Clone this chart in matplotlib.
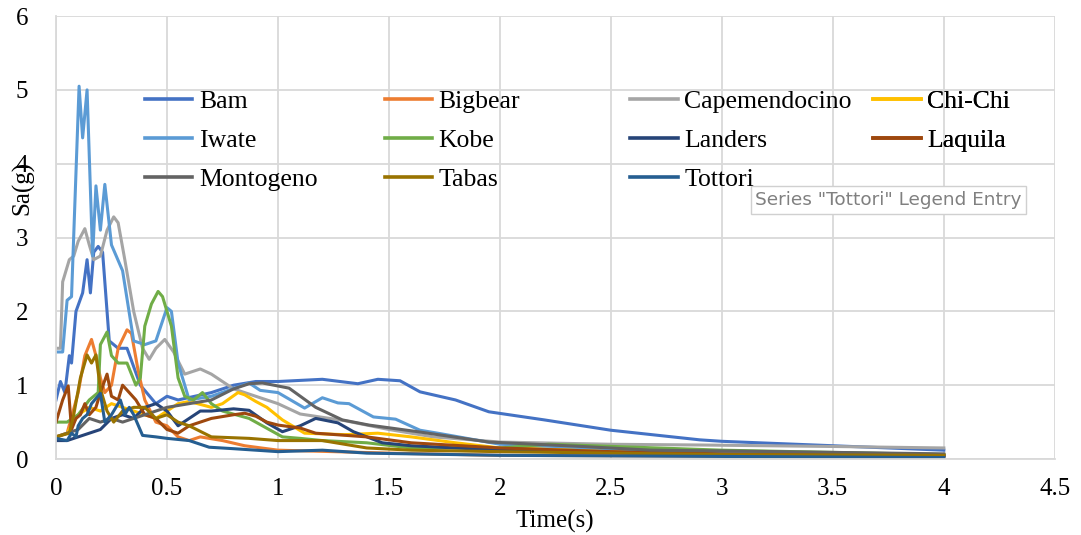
import matplotlib.pyplot as plt
from matplotlib.lines import Line2D

plt.rcParams['font.family'] = ['Liberation Serif', 'DejaVu Serif']

# period (s) and spectral acceleration (g), one pair of lists per record
bam_t = [0, 0.02, 0.04, 0.06, 0.07, 0.09, 0.12, 0.14, 0.155, 0.17, 0.19, 0.21, 0.24, 0.28, 0.32, 0.38,
         0.45, 0.5, 0.55, 0.7, 0.8, 0.9, 1.0, 1.2, 1.36, 1.45, 1.55, 1.64, 1.8, 1.95, 2.2, 2.5, 2.9, 3.0, 3.5, 4.0]
bam_sa = [0.8, 1.05, 0.9, 1.4, 1.3, 2.0, 2.25, 2.7, 2.25, 2.8, 2.88, 2.8, 1.6, 1.5, 1.5, 1.0,
          0.75, 0.85, 0.8, 0.9, 1.0, 1.05, 1.05, 1.08, 1.02, 1.08, 1.06, 0.91, 0.8, 0.64, 0.53, 0.39, 0.26, 0.24, 0.18, 0.12]

bigbear_t = [0, 0.05, 0.1, 0.13, 0.16, 0.18, 0.2, 0.22, 0.25, 0.28, 0.32, 0.34, 0.37, 0.4, 0.45, 0.5,
             0.55, 0.6, 0.65, 0.75, 0.85, 1.0, 1.5, 2.0, 3.0, 4.0]
bigbear_sa = [0.3, 0.35, 0.9, 1.4, 1.62, 1.4, 1.1, 0.9, 1.0, 1.5, 1.75, 1.7, 1.2, 0.8, 0.5, 0.45,
              0.3, 0.25, 0.3, 0.25, 0.18, 0.12, 0.08, 0.05, 0.04, 0.03]

cape_t = [0, 0.02, 0.03, 0.06, 0.08, 0.1, 0.13, 0.15, 0.17, 0.2, 0.23, 0.26, 0.28, 0.31, 0.35, 0.39, 0.42,
          0.45, 0.49, 0.53, 0.58, 0.65, 0.7, 0.8, 0.9, 1.0, 1.1, 1.3, 1.5, 1.7, 2.0, 2.5, 2.9, 3.5, 4.0]
cape_sa = [1.5, 1.5, 2.4, 2.7, 2.75, 2.95, 3.12, 2.9, 2.7, 2.75, 3.1, 3.28, 3.2, 2.7, 2.0, 1.5, 1.35,
           1.5, 1.62, 1.45, 1.15, 1.22, 1.15, 0.95, 0.85, 0.75, 0.61, 0.52, 0.4, 0.3, 0.23, 0.2, 0.19, 0.17, 0.15]

chichi_t = [0, 0.05, 0.1, 0.15, 0.2, 0.25, 0.3, 0.35, 0.4, 0.45, 0.5, 0.55, 0.6, 0.7, 0.75, 0.82, 0.85,
            0.9, 0.95, 1.02, 1.12, 1.3, 1.45, 1.6, 1.8, 2.0, 2.5, 3.0, 4.0]
chichi_sa = [0.3, 0.35, 0.6, 0.7, 0.65, 0.75, 0.7, 0.65, 0.6, 0.55, 0.65, 0.75, 0.78, 0.7, 0.75, 0.9, 0.87,
             0.78, 0.7, 0.53, 0.35, 0.33, 0.35, 0.3, 0.22, 0.15, 0.12, 0.1, 0.06]

iwate_t = [0, 0.03, 0.05, 0.07, 0.104, 0.12, 0.14, 0.165, 0.18, 0.2, 0.22, 0.25, 0.3, 0.35, 0.4, 0.45,
           0.5, 0.52, 0.55, 0.6, 0.7, 0.87, 0.92, 1.0, 1.12, 1.2, 1.27, 1.32, 1.43, 1.53, 1.64, 1.72, 2.0, 3.0, 4.0]
iwate_sa = [1.45, 1.45, 2.15, 2.2, 5.05, 4.35, 5.0, 2.75, 3.7, 3.1, 3.72, 2.9, 2.55, 1.6, 1.55, 1.6,
            2.05, 2.0, 1.3, 0.8, 0.85, 1.03, 0.93, 0.9, 0.69, 0.83, 0.76, 0.75, 0.57, 0.54, 0.39, 0.35, 0.2, 0.08, 0.05]

kobe_t = [0, 0.05, 0.1, 0.15, 0.19, 0.2, 0.23, 0.25, 0.28, 0.32, 0.36, 0.38, 0.4, 0.43, 0.46, 0.48, 0.52,
          0.55, 0.58, 0.62, 0.66, 0.7, 0.75, 0.87, 1.02, 1.1, 1.2, 1.4, 1.6, 2.0, 2.22, 3.0, 4.0]
kobe_sa = [0.5, 0.5, 0.6, 0.8, 0.9, 1.55, 1.72, 1.4, 1.3, 1.3, 1.0, 1.1, 1.8, 2.1, 2.27, 2.2, 1.8,
           1.1, 0.85, 0.8, 0.9, 0.75, 0.65, 0.55, 0.3, 0.28, 0.25, 0.22, 0.15, 0.15, 0.2, 0.12, 0.06]

landers_t = [0, 0.05, 0.1, 0.15, 0.2, 0.25, 0.3, 0.35, 0.4, 0.45, 0.5, 0.55, 0.6, 0.65, 0.7, 0.8, 0.87,
             0.95, 1.02, 1.1, 1.17, 1.27, 1.34, 1.47, 1.6, 2.0, 3.0, 4.0]
landers_sa = [0.25, 0.25, 0.3, 0.35, 0.4, 0.55, 0.6, 0.55, 0.7, 0.75, 0.65, 0.45, 0.55, 0.65, 0.65, 0.68, 0.66,
              0.49, 0.37, 0.45, 0.55, 0.49, 0.37, 0.22, 0.18, 0.12, 0.06, 0.04]

laquila_t = [0, 0.03, 0.055, 0.07, 0.09, 0.11, 0.13, 0.15, 0.18, 0.2, 0.23, 0.25, 0.28, 0.3, 0.33, 0.36,
             0.4, 0.45, 0.5, 0.55, 0.6, 0.7, 0.8, 0.85, 0.9, 0.95, 1.0, 1.1, 1.17, 1.4, 1.6, 2.0, 2.5, 3.0, 4.0]
laquila_sa = [0.5, 0.8, 0.99, 0.4, 0.55, 0.6, 0.75, 0.6, 0.7, 0.9, 1.15, 0.85, 0.8, 1.0, 0.9, 0.8,
              0.6, 0.55, 0.4, 0.35, 0.45, 0.55, 0.6, 0.62, 0.58, 0.5, 0.46, 0.42, 0.35, 0.3, 0.22, 0.15, 0.1, 0.07, 0.05]

monto_t = [0, 0.05, 0.1, 0.15, 0.2, 0.25, 0.3, 0.35, 0.4, 0.45, 0.5, 0.6, 0.7, 0.8, 0.87, 0.93, 1.05,
           1.17, 1.29, 1.41, 1.63, 1.95, 2.37, 2.68, 3.0, 4.0]
monto_sa = [0.3, 0.35, 0.4, 0.55, 0.5, 0.55, 0.5, 0.55, 0.6, 0.65, 0.7, 0.75, 0.8, 0.95, 1.02, 1.03, 0.96,
            0.7, 0.53, 0.46, 0.37, 0.23, 0.17, 0.12, 0.11, 0.07]

tabas_t = [0, 0.06, 0.08, 0.11, 0.14, 0.16, 0.18, 0.2, 0.23, 0.26, 0.3, 0.35, 0.4, 0.45, 0.5, 0.55,
           0.6, 0.7, 0.87, 1.0, 1.2, 1.4, 1.6, 2.0, 3.0, 4.0]
tabas_sa = [0.3, 0.35, 0.6, 1.1, 1.41, 1.3, 1.41, 0.95, 0.65, 0.5, 0.65, 0.7, 0.7, 0.55, 0.6, 0.5,
            0.45, 0.3, 0.28, 0.25, 0.25, 0.15, 0.12, 0.1, 0.06, 0.05]

tottori_t = [0, 0.05, 0.07, 0.09, 0.1, 0.12, 0.14, 0.16, 0.2, 0.22, 0.25, 0.29, 0.31, 0.33, 0.35, 0.39,
             0.45, 0.5, 0.6, 0.69, 0.8, 0.9, 1.0, 1.2, 1.4, 2.0, 4.0]
tottori_sa = [0.28, 0.25, 0.35, 0.3, 0.45, 0.55, 0.6, 0.75, 0.89, 0.5, 0.6, 0.8, 0.6, 0.7, 0.6, 0.32,
              0.3, 0.28, 0.25, 0.16, 0.14, 0.12, 0.1, 0.12, 0.08, 0.05, 0.02]

names = ['Bam', 'Bigbear', 'Capemendocino', 'Chi-Chi', 'Iwate', 'Kobe', 'Landers', 'Laquila',
         'Montogeno', 'Tabas', 'Tottori']
periods = [bam_t, bigbear_t, cape_t, chichi_t, iwate_t, kobe_t, landers_t, laquila_t, monto_t, tabas_t, tottori_t]
accels = [bam_sa, bigbear_sa, cape_sa, chichi_sa, iwate_sa, kobe_sa, landers_sa, laquila_sa, monto_sa, tabas_sa, tottori_sa]
colors = ['#4472C4', '#ED7D31', '#A5A5A5', '#FFC000', '#5B9BD5', '#70AD47',
          '#264478', '#9E480E', '#636363', '#997300', '#255E91']

fig = plt.figure(figsize=(10.81, 5.35), dpi=100)
ax = fig.add_axes([0.0518, 0.142, 0.924, 0.828])

for t, sa, c, n in zip(periods, accels, colors, names):
    ax.plot(t, sa, color=c, lw=2.2, label=n, solid_joinstyle='round')

ax.set_xlim(0, 4.5)
ax.set_ylim(0, 6)
ax.set_xticks([0, 0.5, 1, 1.5, 2, 2.5, 3, 3.5, 4, 4.5])
ax.set_xticklabels(['0', '0.5', '1', '1.5', '2', '2.5', '3', '3.5', '4', '4.5'])
ax.set_yticks(range(7))
ax.grid(True, color='#d9d9d9', lw=1.3)
ax.set_axisbelow(True)
for s in ['top', 'right']:
    ax.spines[s].set_visible(False)
for s in ['left', 'bottom']:
    ax.spines[s].set_color('#d9d9d9')
    ax.spines[s].set_linewidth(1.3)
ax.tick_params(axis='both', length=0, labelsize=18)
ax.tick_params(axis='x', pad=14)
ax.tick_params(axis='y', pad=20)

ax.set_ylabel('Sa(g)', fontsize=18)
ax.yaxis.set_label_coords(-0.022, 0.612)
fig.text(0.513, 0.026, 'Time(s)', fontsize=18, ha='center', va='center')

# legend: Excel lays entries out row by row in equal-width columns, so one legend per column
col_x = [0.089, 0.329, 0.575, 0.818]
for k in range(4):
    idx = list(range(k, len(names), 4))
    handles = [Line2D([], [], color=colors[i], lw=2.6) for i in idx]
    lg = ax.legend(handles, [names[i] for i in idx], loc='upper left', bbox_to_anchor=(col_x[k], 0.832),
                   frameon=False, fontsize=18.5, handlelength=1.85, handletextpad=0.25,
                   labelspacing=0.62, borderpad=0, borderaxespad=0)
    ax.add_artist(lg)

ax.text(0.7, 0.585, 'Series "Tottori" Legend Entry', transform=ax.transAxes, fontsize=13.3,
        family='DejaVu Sans', color='#808080', va='center', ha='left',
        bbox=dict(boxstyle='square,pad=0.25', fc='white', ec='#d0d0d0', lw=1))

fig.savefig('out.png', dpi=100)
